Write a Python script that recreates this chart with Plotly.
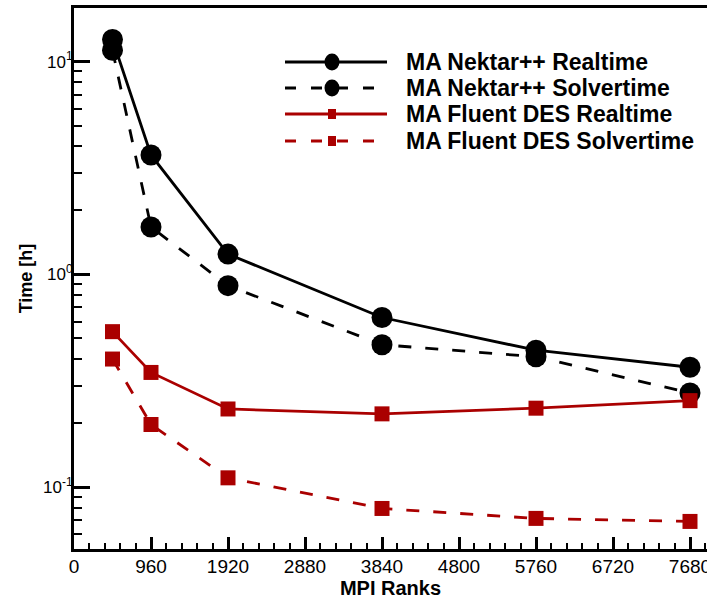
import plotly.graph_objects as go

# MPI rank counts and wall-clock hours for each solver
ranks = [480, 960, 1920, 3840, 5760, 7680]
nektar_realtime = [12.7, 3.64, 1.245, 0.627, 0.44, 0.366]
nektar_solvertime = [11.3, 1.67, 0.885, 0.467, 0.41, 0.277]
fluent_realtime = [0.538, 0.346, 0.233, 0.221, 0.235, 0.255]
fluent_solvertime = [0.400, 0.197, 0.1106, 0.0794, 0.0713, 0.069]

series_names = [
    "MA Nektar++ Realtime",
    "MA Nektar++ Solvertime",
    "MA Fluent DES Realtime",
    "MA Fluent DES Solvertime",
]

x_tickvals = [0, 960, 1920, 2880, 3840, 4800, 5760, 6720, 7680]
y_tickvals = [0.1, 1, 10]
y_ticktext = ["10<sup>-1</sup>", "10<sup>0</sup>", "10<sup>1</sup>"]
y_minor = [0.06, 0.07, 0.08, 0.09, 0.2, 0.3, 0.4, 0.5, 0.6, 0.7, 0.8, 0.9,
           2, 3, 4, 5, 6, 7, 8, 9]

BLACK = "#000000"
RED = "#aa0000"
FONT = "Arial, Liberation Sans, sans-serif"
DASH = "13px,14px"

styles = [
    dict(color=BLACK, dash="solid", symbol="circle", size=21),
    dict(color=BLACK, dash=DASH, symbol="circle", size=21),
    dict(color=RED, dash="solid", symbol="square", size=15),
    dict(color=RED, dash=DASH, symbol="square", size=15),
]
values = [nektar_realtime, nektar_solvertime, fluent_realtime, fluent_solvertime]

fig = go.Figure()
for name, vals, st in zip(series_names, values, styles):
    fig.add_trace(go.Scatter(
        x=ranks, y=vals, name=name, mode="lines+markers",
        line=dict(color=st["color"], width=2.8, dash=st["dash"]),
        marker=dict(color=st["color"], symbol=st["symbol"], size=st["size"],
                    line=dict(width=0)),
        showlegend=False,
    ))

# plot-area geometry in pixels, used for the hand-built legend
W, H = 707, 599
L, T, R, B = 74, 8, 707, 549


def px_x(px):
    return (px - L) / (R - L)


def px_y(py):
    return (B - py) / (B - T)


legend_rows = [62, 88, 114, 141]
shapes = []
annotations = []
for name, st, row in zip(series_names, styles, legend_rows):
    ldash = "solid" if st["dash"] == "solid" else "11px,15px"
    shapes.append(dict(type="line", xref="paper", yref="paper",
                       x0=px_x(285), x1=px_x(387), y0=px_y(row), y1=px_y(row),
                       line=dict(color=st["color"], width=2.8, dash=ldash)))
    if st["symbol"] == "circle":
        shapes.append(dict(type="circle", xref="paper", yref="paper",
                           xsizemode="pixel", ysizemode="pixel",
                           xanchor=px_x(332), yanchor=px_y(row),
                           x0=-7.5, x1=7.5, y0=-8.5, y1=8.5,
                           fillcolor=st["color"], line=dict(width=0)))
    else:
        shapes.append(dict(type="rect", xref="paper", yref="paper",
                           xsizemode="pixel", ysizemode="pixel",
                           xanchor=px_x(332), yanchor=px_y(row),
                           x0=-4, x1=4, y0=-5, y1=5,
                           fillcolor=st["color"], line=dict(width=0)))
    annotations.append(dict(xref="paper", yref="paper", x=px_x(404), y=px_y(row),
                            xanchor="left", yanchor="middle", showarrow=False,
                            text=name,
                            font=dict(family=FONT, size=23, color="black",
                                      weight="bold")))

fig.update_layout(
    width=W, height=H,
    margin=dict(l=L, r=W - R, t=T, b=H - B),
    paper_bgcolor="white", plot_bgcolor="white",
    template="none",
    shapes=shapes,
    annotations=annotations,
    showlegend=False,
)

fig.update_xaxes(
    range=[0, 7892], tickvals=x_tickvals,
    ticks="inside", ticklen=12, tickwidth=3, tickcolor="black",
    minor=dict(dtick=192, tick0=0, ticks="inside", ticklen=6, tickwidth=1.5,
               tickcolor="black", showgrid=False),
    showline=True, linewidth=3, linecolor="black", mirror=True,
    showgrid=False, zeroline=False, automargin=False,
    tickfont=dict(family=FONT, size=19, color="black"),
    ticklabelstandoff=-2, ticklabeloverflow="allow",
    title=dict(text="MPI Ranks", standoff=2,
               font=dict(family=FONT, size=20, color="black", weight="bold")),
)

fig.update_yaxes(
    type="log", range=[-1.2907, 1.2518],
    tickvals=y_tickvals, ticktext=y_ticktext,
    ticks="inside", ticklen=16, tickwidth=3, tickcolor="black",
    minor=dict(tickvals=y_minor, ticks="inside", ticklen=8, tickwidth=1.5,
               tickcolor="black", showgrid=False),
    showline=True, linewidth=3, linecolor="black", mirror=False,
    showgrid=False, zeroline=False, automargin=False,
    tickfont=dict(family=FONT, size=17, color="black"),
    ticklabelstandoff=-5,
    title=dict(text="Time [h]", standoff=6,
               font=dict(family=FONT, size=18, color="black", weight="bold")),
)

fig.write_html("out.html")
